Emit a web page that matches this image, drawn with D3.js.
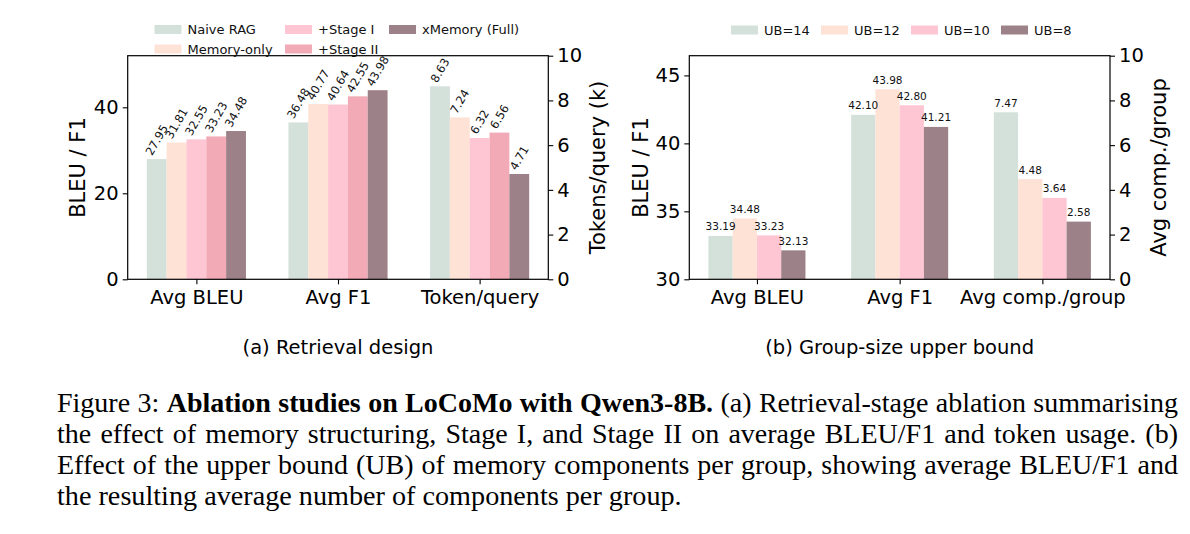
<!DOCTYPE html>
<html><head><meta charset="utf-8">
<script src="https://cdn.jsdelivr.net/npm/d3@7"></script>
<style>body{margin:0;background:#fff} svg{display:block}</style>
</head><body>
<svg id="fig" width="1190" height="534"></svg>
<script>
// ---------- data ----------
const retrievalCategories = ["Avg BLEU", "Avg F1", "Token/query"];
const retrievalSeries = ["Naive RAG", "Memory-only", "+Stage I", "+Stage II", "xMemory (Full)"];
const naiveRAG    = [27.95, 36.48, 8.63];
const memoryOnly  = [31.81, 40.77, 7.24];
const stageI      = [32.55, 40.64, 6.32];
const stageII     = [33.23, 42.55, 6.56];
const xMemoryFull = [34.48, 43.98, 4.71];
const retrievalLeftTicks  = [0, 20, 40];
const retrievalRightTicks = [0, 2, 4, 6, 8, 10];

const groupCategories = ["Avg BLEU", "Avg F1", "Avg comp./group"];
const groupSeries = ["UB=14", "UB=12", "UB=10", "UB=8"];
const ub14 = [33.19, 42.10, 7.47];
const ub12 = [34.48, 43.98, 4.48];
const ub10 = [33.23, 42.80, 3.64];
const ub8  = [32.13, 41.21, 2.58];
const groupLeftTicks  = [30, 35, 40, 45];
const groupRightTicks = [0, 2, 4, 6, 8, 10];

const captionLines = [
  [["n", "Figure 3: "], ["b", "Ablation studies on LoCoMo with Qwen3-8B."], ["n", " (a) Retrieval-stage ablation summarising"]],
  [["n", "the effect of memory structuring, Stage I, and Stage II on average BLEU/F1 and token usage. (b)"]],
  [["n", "Effect of the upper bound (UB) of memory components per group, showing average BLEU/F1 and"]],
  [["n", "the resulting average number of components per group."]]
];

// ---------- styles ----------
const C = {naive: "#d4e0da", mem: "#fee2d6", s1: "#fdc6d2", s2: "#f2aab6", full: "#9d8188"};
const FONT = "'DejaVu Sans', sans-serif";
const svg = d3.select("#fig");

function panel(o) {
  const g = svg.append("g");
  const nb = o.series.length, w = o.barWidth;
  const half = nb * w / 2, m = 0.05 * (2 + nb * w);
  const x = d3.scaleLinear().domain([-half - m, 2 + half + m]).range([o.x0, o.x1]);
  const yL = d3.scaleLinear().domain(o.leftDomain).range([o.yb, o.yt]);
  const yR = d3.scaleLinear().domain(o.rightDomain).range([o.yb, o.yt]);
  const scaleFor = i => (i < 2 ? yL : yR);

  o.series.forEach((vals, j) => {
    vals.forEach((v, i) => {
      const ys = scaleFor(i);
      const xa = x(i - half + j * w), xb = x(i - half + (j + 1) * w);
      g.append("rect").attr("x", xa).attr("width", xb - xa)
        .attr("y", ys(v)).attr("height", ys(ys.domain()[0]) - ys(v))
        .attr("fill", o.colors[j]);
    });
  });
  o.series.forEach((vals, j) => {
    vals.forEach((v, i) => {
      const ys = scaleFor(i);
      const xa = x(i - half + j * w), xb = x(i - half + (j + 1) * w);
      const cx = (xa + xb) / 2, top = ys(v);
      const t = g.append("text").text(v.toFixed(2))
        .attr("font-family", FONT).attr("font-size", o.labelSize).attr("fill", "#111");
      if (o.rotateLabels) {
        const L = t.node().getComputedTextLength();
        const h = o.labelSize * 1.0;
        const a = 60 * Math.PI / 180;
        const bh = L * Math.sin(a) + h * Math.cos(a);
        const cy = top - 2 - bh / 2;
        t.attr("text-anchor", "middle").attr("dominant-baseline", "central")
          .attr("transform", `translate(${cx},${cy}) rotate(-60)`);
      } else {
        t.attr("text-anchor", "middle").attr("x", cx).attr("y", top - 5.5);
      }
    });
  });

  // axes
  const tickFont = sel => sel.selectAll("text").attr("font-family", FONT).attr("font-size", 19.5).attr("fill", "#000");
  const axL = g.append("g").attr("transform", `translate(${o.x0},0)`)
    .call(d3.axisLeft(yL).tickValues(o.leftTicks).tickSize(5).tickSizeOuter(0).tickPadding(4).tickFormat(d3.format("d")));
  const axR = g.append("g").attr("transform", `translate(${o.x1},0)`)
    .call(d3.axisRight(yR).tickValues(o.rightTicks).tickSize(5).tickSizeOuter(0).tickPadding(4).tickFormat(d3.format("d")));
  const axB = g.append("g").attr("transform", `translate(0,${o.yb})`)
    .call(d3.axisBottom(x).tickValues([0, 1, 2]).tickSize(5).tickSizeOuter(0).tickPadding(6).tickFormat(i => o.categories[i]));
  [axL, axR, axB].forEach(a => { a.select(".domain").remove(); tickFont(a); a.selectAll("line").attr("stroke", "#000").attr("stroke-width", 1.1); });

  g.append("rect").attr("x", o.x0).attr("y", o.yt).attr("width", o.x1 - o.x0).attr("height", o.yb - o.yt)
    .attr("fill", "none").attr("stroke", "#000").attr("stroke-width", 1.2);

  // y labels
  g.append("text").text(o.leftLabel).attr("font-family", FONT).attr("font-size", 21)
    .attr("text-anchor", "middle").attr("dominant-baseline", "central")
    .attr("transform", `translate(${o.leftLabelX},${(o.yt + o.yb) / 2}) rotate(-90)`);
  g.append("text").text(o.rightLabel).attr("font-family", FONT).attr("font-size", 21)
    .attr("text-anchor", "middle").attr("dominant-baseline", "central")
    .attr("transform", `translate(${o.rightLabelX},${(o.yt + o.yb) / 2}) rotate(-90)`);

  // sub caption
  g.append("text").text(o.sub).attr("font-family", FONT).attr("font-size", 19.5)
    .attr("text-anchor", "middle").attr("x", (o.x0 + o.x1) / 2).attr("y", 354);

  // legend
  o.legendItems.forEach(it => {
    g.append("rect").attr("x", it.x).attr("y", it.y - 4.5).attr("width", 27).attr("height", 9).attr("fill", it.color);
    g.append("text").text(it.label).attr("x", it.x + 33).attr("y", it.y)
      .attr("dominant-baseline", "central").attr("font-family", FONT).attr("font-size", 13).attr("fill", "#111");
  });
}

panel({
  x0: 127.7, x1: 548.3, yt: 55.7, yb: 279.3,
  categories: retrievalCategories,
  series: [naiveRAG, memoryOnly, stageI, stageII, xMemoryFull],
  colors: [C.naive, C.mem, C.s1, C.s2, C.full],
  barWidth: 0.14, leftDomain: [0, 52], rightDomain: [0, 10],
  leftTicks: retrievalLeftTicks, rightTicks: retrievalRightTicks,
  rotateLabels: true, labelSize: 11.5,
  leftLabel: "BLEU / F1", leftLabelX: 78, rightLabel: "Tokens/query (k)", rightLabelX: 598,
  sub: "(a) Retrieval design",
  legendItems: [
    {x: 154.5, y: 29.5, color: C.naive, label: retrievalSeries[0]},
    {x: 154.5, y: 49, color: C.mem, label: retrievalSeries[1]},
    {x: 285, y: 29.5, color: C.s1, label: retrievalSeries[2]},
    {x: 285, y: 49, color: C.s2, label: retrievalSeries[3]},
    {x: 389, y: 29.5, color: C.full, label: retrievalSeries[4]}
  ]
});

panel({
  x0: 689.3, x1: 1110, yt: 55.7, yb: 279.3,
  categories: groupCategories,
  series: [ub14, ub12, ub10, ub8],
  colors: [C.naive, C.mem, C.s1, C.full],
  barWidth: 0.17, leftDomain: [30, 46.45], rightDomain: [0, 10],
  leftTicks: groupLeftTicks, rightTicks: groupRightTicks,
  rotateLabels: false, labelSize: 10.5,
  leftLabel: "BLEU / F1", leftLabelX: 641, rightLabel: "Avg comp./group", rightLabelX: 1159,
  sub: "(b) Group-size upper bound",
  legendItems: [
    {x: 731, y: 30, color: C.naive, label: groupSeries[0]},
    {x: 821, y: 30, color: C.mem, label: groupSeries[1]},
    {x: 911, y: 30, color: C.s1, label: groupSeries[2]},
    {x: 1001, y: 30, color: C.full, label: groupSeries[3]}
  ]
});

// ---------- figure caption ----------
const capX = 57, capW = 1121, capSize = 28, capY0 = 412, capLH = 31;
captionLines.forEach((parts, li) => {
  const t = svg.append("text").attr("x", capX).attr("y", capY0 + li * capLH)
    .attr("font-family", "'Liberation Serif', 'Times New Roman', serif").attr("fill", "#000");
  const last = li === captionLines.length - 1;
  t.attr("font-size", last ? 28.2 : capSize);
  parts.forEach(([k, s]) => t.append("tspan").text(s).attr("font-weight", k === "b" ? "bold" : "normal"));
  const L = t.node().getComputedTextLength();
  if (!last) {
    if (L > capW) {
      t.attr("textLength", capW).attr("lengthAdjust", "spacingAndGlyphs");
    } else {
      const spaces = parts.map(p => p[1]).join("").split(" ").length - 1;
      t.attr("word-spacing", (capW - L) / spaces);
    }
  }
});
</script>
</body></html>
